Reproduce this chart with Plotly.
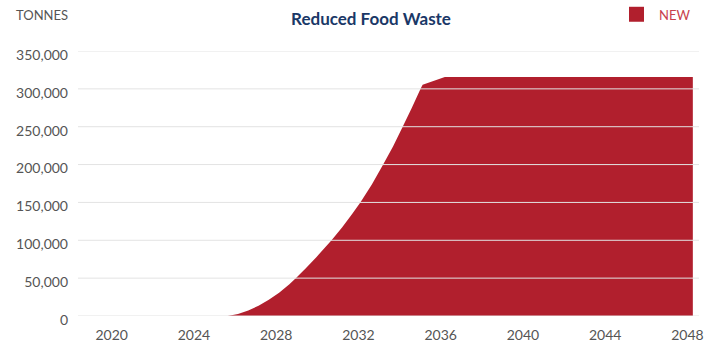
import plotly.graph_objects as go

# Data
years = [2020, 2025.64, 2026.14, 2026.64, 2027.14, 2027.64, 2028.14, 2028.64,
         2028.95, 2029.45, 2029.95, 2030.69, 2031.20, 2031.70, 2032.09, 2032.65,
         2033.20, 2033.68, 2034.15, 2034.59, 2035.02, 2035.12, 2036.20, 2048.26]
tonnes = [0, 0, 2800, 7300, 13500, 21300, 30700, 41900,
          50000, 63400, 77700, 100000, 117000, 135200, 150000, 173700,
          200000, 224000, 250000, 274600, 300000, 305300, 315500, 315500]
x_ticks = [2020, 2024, 2028, 2032, 2036, 2040, 2044, 2048]
y_ticks = [0, 50000, 100000, 150000, 200000, 250000, 300000, 350000]
series_name = "NEW"
title = "Reduced Food Waste"
y_unit = "TONNES"

RED = "#b11f2d"
GRID = "#e3e3e3"
FONT = "Lato"
TXT = "#555555"

L, R, T, B = 78, 20, 51, 30.5
PW = 719 - L - R
PH = 347 - T - B

fig = go.Figure()
fig.add_trace(go.Scatter(
    x=years, y=tonnes, mode="none", fill="tozeroy", fillcolor=RED,
    name=series_name, showlegend=False, hoverinfo="x+y",
))

# gridlines drawn over the area, as in the reference
for v in y_ticks:
    fig.add_shape(type="line", xref="paper", yref="y", x0=0, x1=1, y0=v, y1=v,
                  line=dict(color=GRID, width=1), layer="above")

fig.update_layout(
    width=719, height=347,
    margin=dict(l=L, r=R, t=T, b=B, autoexpand=False),
    paper_bgcolor="white", plot_bgcolor="white",
    font=dict(family=FONT, size=14, color=TXT),
    title=dict(text="<b>" + title + "</b>", x=371 / 719, xanchor="center",
               y=1 - 19 / 347, yanchor="middle",
               font=dict(family=FONT, size=17, color="#1a3867")),
    xaxis=dict(range=[2018.36, 2048.56], tickvals=x_ticks,
               ticktext=[str(t) for t in x_ticks],
               showgrid=False, zeroline=False, showline=False, automargin=False,
               ticks="", ticklabelstandoff=9,
               tickfont=dict(family=FONT, size=14, color=TXT)),
    yaxis=dict(range=[0, 350000], tickvals=y_ticks,
               ticktext=[f"{v:,}" for v in y_ticks],
               showgrid=False, zeroline=False, showline=False, automargin=False,
               ticks="", ticklabelstandoff=9, ticklabelshift=4,
               tickfont=dict(family=FONT, size=14, color=TXT)),
    showlegend=False,
)

# unit label
fig.add_annotation(text=y_unit, xref="paper", yref="paper",
                   x=-(L - 14) / PW, xanchor="left",
                   y=1 + (T - 15) / PH, yanchor="middle",
                   showarrow=False, font=dict(family=FONT, size=13, color=TXT))

# legend swatch + label
fig.add_shape(type="rect", xref="paper", yref="paper",
              x0=(629 - L) / PW, x1=(644 - L) / PW,
              y0=1 + (T - 21.7) / PH, y1=1 + (T - 6.7) / PH,
              fillcolor=RED, line=dict(width=0), layer="above")
fig.add_annotation(text=series_name, xref="paper", yref="paper",
                   x=(657 - L) / PW, xanchor="left",
                   y=1 + (T - 15) / PH, yanchor="middle",
                   showarrow=False, font=dict(family=FONT, size=13, color="#c8404e"))

fig.write_html("out.html")
